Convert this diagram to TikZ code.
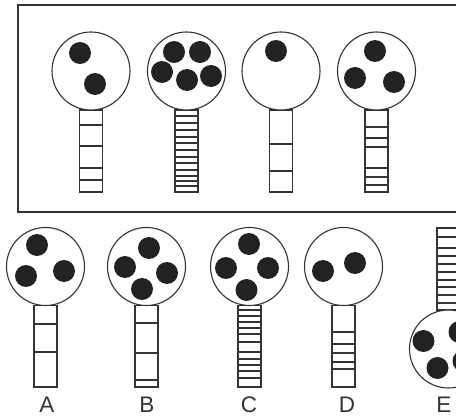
\documentclass[tikz,border=0pt]{standalone}
\usepackage{fontspec}
\setmainfont{Liberation Sans}
\usetikzlibrary{calc}
\definecolor{inkgray}{RGB}{51,51,51}
\definecolor{blobblack}{RGB}{34,34,34}
\tikzset{
  bulb/.style={circle, draw=inkgray, line width=1.1pt, fill=white,
    minimum size=78pt, inner sep=0pt},
  blob/.style={fill=blobblack},
  stalk/.style={draw=inkgray, line width=1.3pt, fill=white},
  rung/.style={draw=inkgray, line width=2pt},
  letter/.style={font=\fontsize{22.5}{24}\selectfont, text=inkgray,
    anchor=base, inner sep=0pt}
}

\begin{document}
\begin{tikzpicture}[x=1pt, y=-1pt]
  \useasboundingbox (0,0) rectangle (456,417);

  % === SAMPLE BOX ===
  \draw[inkgray, line width=2pt] (18,5) rectangle (470,212);

  % sample 1
  \begin{scope}[shift={(91,71)}]
    \draw[stalk] (-11.5,39) rectangle (11.5,121);
    \foreach \y in {54,75,97,109}
      \draw[rung] (-11.5,\y) -- (11.5,\y);
    \node[bulb] (s1) at (0,0) {};
    \foreach \p in {(-11,-18),(4,13)}
      \fill[blob] \p circle (11pt);
  \end{scope}

  % sample 2
  \begin{scope}[shift={(186.5,71)}]
    \draw[stalk] (-11.5,39) rectangle (11.5,121);
    \foreach \y in {45,52,59,66,72,79,86,92,99,105,110,115}
      \draw[rung] (-11.5,\y) -- (11.5,\y);
    \node[bulb] (s2) at (0,0) {};
    \foreach \p in {(-12.5,-19),(13.5,-19),(-24.5,1),(0.5,9),(24.5,5)}
      \fill[blob] \p circle (11pt);
  \end{scope}

  % sample 3
  \begin{scope}[shift={(281,71)}]
    \draw[stalk] (-11.5,39) rectangle (11.5,121);
    \foreach \y in {73,100}
      \draw[rung] (-11.5,\y) -- (11.5,\y);
    \node[bulb] (s3) at (0,0) {};
    \fill[blob] (-5,-20) circle (11pt);
  \end{scope}

  % sample 4
  \begin{scope}[shift={(376.5,71)}]
    \draw[stalk] (-11.5,39) rectangle (11.5,121);
    \foreach \y in {56,67,76,97,106,114}
      \draw[rung] (-11.5,\y) -- (11.5,\y);
    \node[bulb] (s4) at (0,0) {};
    \foreach \p in {(-1.5,-20),(-21.5,7),(17.5,11)}
      \fill[blob] \p circle (11pt);
  \end{scope}

  % === OPTIONS ===
  % A
  \begin{scope}[shift={(45.5,266.5)}]
    \draw[stalk] (-11.5,39) rectangle (11.5,120.5);
    \foreach \y in {57.5,85.5}
      \draw[rung] (-11.5,\y) -- (11.5,\y);
    \node[bulb] (optA) at (0,0) {};
    \foreach \p in {(-8.5,-21.5),(-19.5,9.5),(18.5,4.5)}
      \fill[blob] \p circle (11pt);
  \end{scope}

  % B
  \begin{scope}[shift={(146.5,266.5)}]
    \draw[stalk] (-11.5,39) rectangle (11.5,120.5);
    \foreach \y in {56.5,86.5,113.5}
      \draw[rung] (-11.5,\y) -- (11.5,\y);
    \node[bulb] (optB) at (0,0) {};
    \foreach \p in {(2.5,-18.5),(-21.5,0.5),(20.5,6.5),(-4.5,22.5)}
      \fill[blob] \p circle (11pt);
  \end{scope}

  % C
  \begin{scope}[shift={(249.5,266.5)}]
    \draw[stalk] (-11.5,39) rectangle (11.5,120.5);
    \foreach \y in {43.5,50,56,62,67.5,76,86,92.5,99,105,111.5}
      \draw[rung] (-11.5,\y) -- (11.5,\y);
    \node[bulb] (optC) at (0,0) {};
    \foreach \p in {(-0.5,-22.5),(-23.5,1.5),(18.5,1.5),(-3,23.5)}
      \fill[blob] \p circle (11pt);
  \end{scope}

  % D
  \begin{scope}[shift={(343.5,266.5)}]
    \draw[stalk] (-11.5,39) rectangle (11.5,120.5);
    \foreach \y in {65.5,77.5,86.5,95.5,102.5}
      \draw[rung] (-11.5,\y) -- (11.5,\y);
    \node[bulb] (optD) at (0,0) {};
    \foreach \p in {(-20.5,4.5),(11.5,-3.5)}
      \fill[blob] \p circle (11pt);
  \end{scope}

  % E (upside down)
  \begin{scope}[shift={(448.5,349)}]
    \draw[stalk] (-11.5,-121) rectangle (11.5,-39);
    \foreach \y in {-112,-101,-93,-85,-77,-69,-62,-54,-46}
      \draw[rung] (-11.5,\y) -- (11.5,\y);
    \node[bulb] (optE) at (0,0) {};
    \foreach \p in {(-25,-8),(-11,19),(11,-17),(15,12)}
      \fill[blob] \p circle (11pt);
  \end{scope}

  % labels
  \node[letter] (labA) at (47,412.5) {A};
  \node[letter] (labB) at (147,412.5) {B};
  \node[letter] (labC) at (249,412.5) {C};
  \node[letter] (labD) at (347,412.5) {D};
  \node[letter] (labE) at (444,412.5) {E};

\end{tikzpicture}
\end{document}
